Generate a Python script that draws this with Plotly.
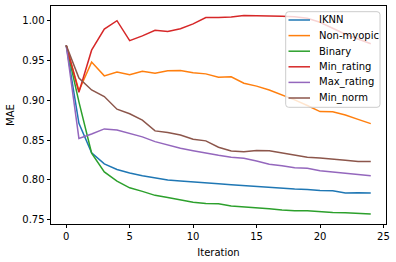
import plotly.graph_objects as go

iterations = list(range(25))
iknn = [0.969, 0.871, 0.834, 0.820, 0.813, 0.8085, 0.8052, 0.802, 0.7997, 0.7987, 0.7972, 0.7956, 0.795,
        0.7938, 0.7926, 0.7913, 0.790, 0.789, 0.7884, 0.788, 0.7866, 0.7862, 0.7834, 0.7838, 0.7834]
non_myopic = [0.969, 0.912, 0.948, 0.9307, 0.9354, 0.932, 0.9366, 0.934, 0.937, 0.9374, 0.9345, 0.9332, 0.929,
              0.9295, 0.9215, 0.9178, 0.913, 0.907, 0.9005, 0.8935, 0.8858, 0.8856, 0.8816, 0.876, 0.8707]
binary = [0.969, 0.898, 0.8334, 0.810, 0.7985, 0.790, 0.7855, 0.7805, 0.7778, 0.7746, 0.7718, 0.7702, 0.7698,
          0.767, 0.766, 0.7654, 0.7636, 0.762, 0.761, 0.761, 0.7596, 0.759, 0.7585, 0.758, 0.757]
min_rating = [0.969, 0.910, 0.963, 0.9895, 1.000, 0.975, 0.981, 0.988, 0.9866, 0.990, 0.996, 1.004, 1.004,
              1.0047, 1.0067, 1.006, 1.0058, 1.0055, 1.005, 1.003, 0.998, 0.990, 0.983, 0.977, 0.971]
max_rating = [0.969, 0.852, 0.8577, 0.864, 0.8627, 0.8586, 0.854, 0.848, 0.8438, 0.8397, 0.8367, 0.8334, 0.8308,
              0.8283, 0.827, 0.8237, 0.8195, 0.8178, 0.8153, 0.8145, 0.8115, 0.8098, 0.8082, 0.806, 0.8052]
min_norm = [0.969, 0.928, 0.913, 0.9047, 0.8888, 0.883, 0.875, 0.8615, 0.8594, 0.8564, 0.851, 0.849, 0.841,
            0.8363, 0.8354, 0.837, 0.8366, 0.8337, 0.831, 0.8285, 0.8273, 0.8262, 0.8245, 0.823, 0.823]

names = ["IKNN", "Non-myopic", "Binary", "Min_rating", "Max_rating", "Min_norm"]
series = [iknn, non_myopic, binary, min_rating, max_rating, min_norm]
colors = ["#1f77b4", "#ff7f0e", "#2ca02c", "#d62728", "#9467bd", "#8c564b"]

W, H = 396, 262
L, R, T, B = 51, 10, 6, 38
PW, PH = W - L - R, H - T - B


def px(x):
    return (x - L) / PW


def py(y):
    return (H - B - y) / PH


FONT = "DejaVu Sans"

fig = go.Figure()
for name, vals, col in zip(names, series, colors):
    fig.add_trace(go.Scatter(x=iterations, y=vals, mode="lines", name=name,
                             line=dict(color=col, width=1.5), showlegend=False))

# manual legend (matplotlib style)
x0, x1, y0, y1, r = 285.7, 380.0, 11.7, 107.3, 3.0
path = (f"M {px(x0+r)},{py(y0)} L {px(x1-r)},{py(y0)} Q {px(x1)},{py(y0)} {px(x1)},{py(y0+r)} "
        f"L {px(x1)},{py(y1-r)} Q {px(x1)},{py(y1)} {px(x1-r)},{py(y1)} "
        f"L {px(x0+r)},{py(y1)} Q {px(x0)},{py(y1)} {px(x0)},{py(y1-r)} "
        f"L {px(x0)},{py(y0+r)} Q {px(x0)},{py(y0)} {px(x0+r)},{py(y0)} Z")
shapes = [dict(type="path", path=path, xref="paper", yref="paper",
               fillcolor="rgba(255,255,255,0.8)", line=dict(color="#cccccc", width=1), layer="above")]
annotations = []
for k, (name, col) in enumerate(zip(names, colors)):
    yy = 20.0 + 15.6 * k
    shapes.append(dict(type="line", xref="paper", yref="paper", x0=px(288.5), x1=px(310.0),
                       y0=py(yy), y1=py(yy), line=dict(color=col, width=1.5), layer="above"))
    annotations.append(dict(text=name, xref="paper", yref="paper", x=px(316.5), y=py(yy),
                            xanchor="left", yanchor="middle", showarrow=False,
                            font=dict(family=FONT, size=10, color="black")))

fig.update_layout(
    width=W, height=H,
    margin=dict(l=L, r=R, t=T, b=B, pad=0, autoexpand=False),
    paper_bgcolor="white", plot_bgcolor="white",
    font=dict(family=FONT, size=10, color="black"),
    shapes=shapes, annotations=annotations,
    xaxis=dict(range=[-1.2, 25.2], tickmode="array", tickvals=[0, 5, 10, 15, 20, 25],
               ticks="outside", ticklen=3.5, tickwidth=0.8, tickcolor="black",
               showline=True, linecolor="black", linewidth=0.8, mirror=True,
               showgrid=False, zeroline=False, automargin=False,
               title=dict(text="Iteration", font=dict(family=FONT, size=10), standoff=7)),
    yaxis=dict(range=[0.7445, 1.0185], tickmode="array",
               tickvals=[0.75, 0.80, 0.85, 0.90, 0.95, 1.00], tickformat=".2f",
               ticks="outside", ticklen=3.5, tickwidth=0.8, tickcolor="black",
               showline=True, linecolor="black", linewidth=0.8, mirror=True,
               showgrid=False, zeroline=False, automargin=False,
               title=dict(text="MAE", font=dict(family=FONT, size=10), standoff=5)),
)

fig.write_html("out.html", config={"displayModeBar": False},
               post_script="document.body.style.margin='0';document.body.style.overflow='hidden';")
